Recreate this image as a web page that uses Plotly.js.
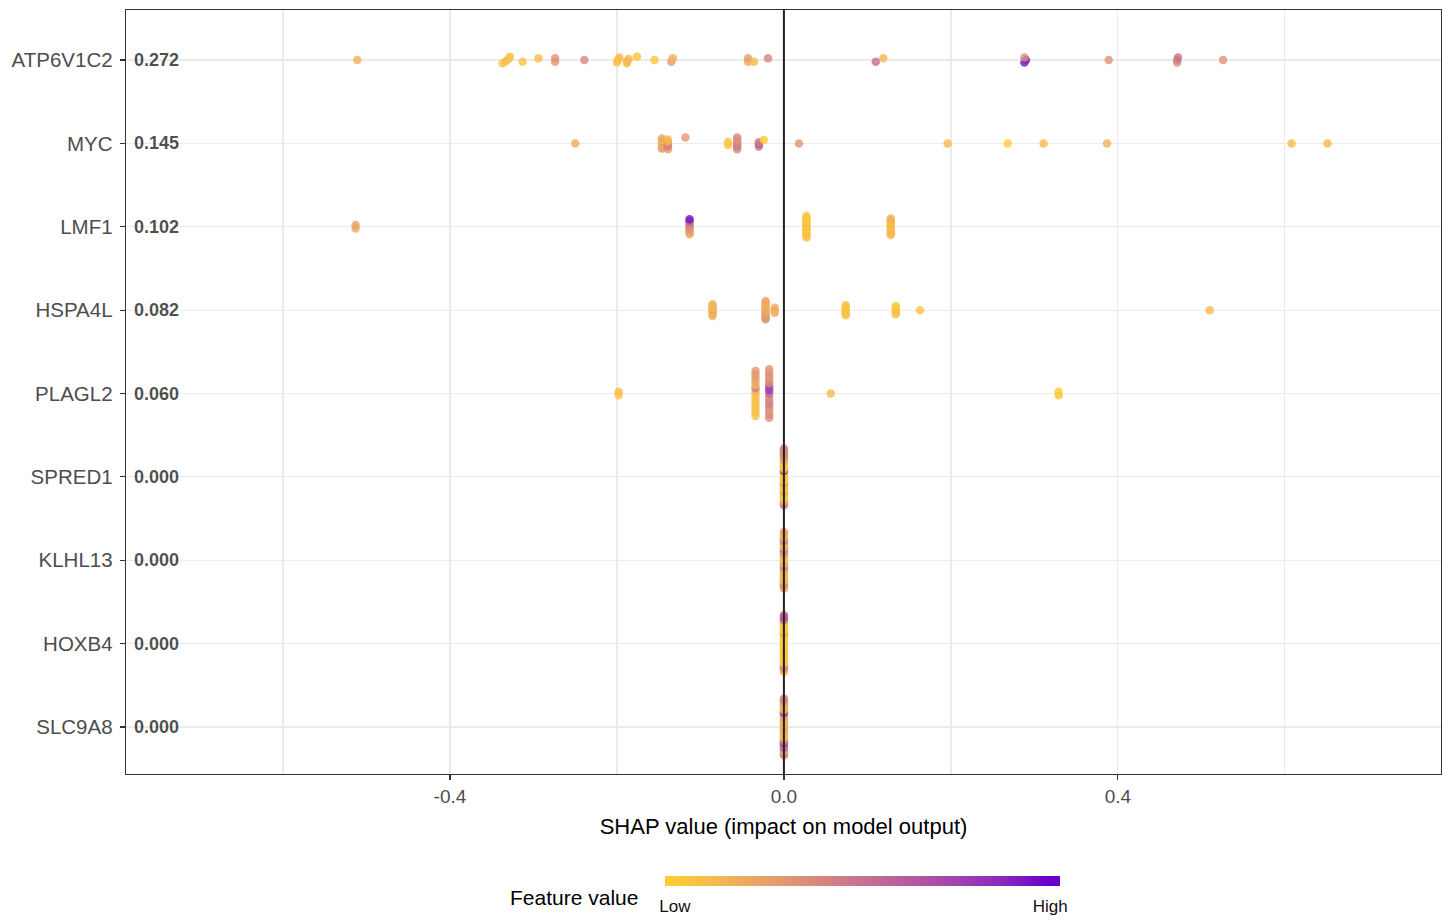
<!DOCTYPE html>
<html>
<head>
<meta charset="utf-8">
<script src="https://cdn.plot.ly/plotly-3.0.1.min.js"></script>
<style>html,body{margin:0;padding:0;background:#fff;}#chart{width:1452px;height:922px;}</style>
</head>
<body>
<div id="chart"></div>
<script>
// ---------------- data ----------------
const features = ["ATP6V1C2","MYC","LMF1","HSPA4L","PLAGL2","SPRED1","KLHL13","HOXB4","SLC9A8"];
const meanAbsLabels = ["0.272","0.145","0.102","0.082","0.060","0.000","0.000","0.000","0.000"];

const shap_ATP6V1C2 = [-0.511,-0.337,-0.333,-0.330,-0.328,-0.313,-0.294,-0.274,-0.274,-0.239,-0.200,-0.199,-0.197,-0.188,-0.188,-0.186,-0.176,-0.155,-0.135,-0.133,-0.043,-0.043,-0.036,-0.019,0.110,0.119,0.288,0.290,0.288,0.389,0.471,0.471,0.472,0.526];
const fv_ATP6V1C2   = [0.15,0.05,0.08,0.10,0.06,0.05,0.08,0.28,0.32,0.38,0.05,0.08,0.10,0.05,0.12,0.10,0.05,0.02,0.28,0.15,0.20,0.25,0.10,0.38,0.52,0.12,0.95,0.90,0.35,0.30,0.35,0.40,0.50,0.30];

const shap_MYC = [-0.250,-0.146,-0.146,-0.146,-0.146,-0.146,-0.146,-0.139,-0.139,-0.139,-0.139,-0.139,-0.139,-0.118,-0.067,-0.067,-0.056,-0.056,-0.056,-0.056,-0.056,-0.056,-0.056,-0.030,-0.030,-0.030,-0.024,0.018,0.196,0.268,0.311,0.387,0.608,0.651];
const fv_MYC   = [0.18,0.30,0.20,0.15,0.25,0.10,0.20,0.25,0.30,0.45,0.40,0.15,0.10,0.28,0.02,0.05,0.35,0.40,0.45,0.38,0.42,0.30,0.35,0.40,0.65,0.45,0.00,0.30,0.10,0.00,0.08,0.12,0.08,0.10];

const shap_LMF1 = [-0.513,-0.513,-0.113,-0.113,-0.113,-0.113,-0.113,-0.113,-0.113,-0.113,-0.113,0.027,0.027,0.027,0.027,0.027,0.027,0.027,0.027,0.027,0.027,0.027,0.027,0.027,0.128,0.128,0.128,0.128,0.128,0.128,0.128,0.128,0.128,0.128];
const fv_LMF1   = [0.20,0.22,0.20,0.22,0.25,0.30,0.35,0.40,0.45,0.60,0.95,0.05,0.08,0.02,0.10,0.05,0.00,0.08,0.05,0.10,0.03,0.06,0.00,0.05,0.10,0.12,0.08,0.15,0.10,0.05,0.12,0.08,0.10,0.15];

const shap_HSPA4L = [-0.0855,-0.0855,-0.0855,-0.0855,-0.0855,-0.0855,-0.0855,-0.022,-0.022,-0.022,-0.022,-0.022,-0.022,-0.022,-0.022,-0.022,-0.022,-0.022,-0.011,-0.011,-0.011,0.074,0.074,0.074,0.074,0.074,0.074,0.134,0.134,0.134,0.134,0.134,0.163,0.510];
const fv_HSPA4L   = [0.15,0.18,0.12,0.20,0.15,0.10,0.15,0.35,0.30,0.28,0.25,0.22,0.20,0.18,0.20,0.15,0.18,0.20,0.20,0.15,0.18,0.05,0.08,0.02,0.06,0.04,0.05,0.06,0.04,0.08,0.05,0.03,0.05,0.10];

const shap_PLAGL2 = [-0.198,-0.198,-0.0176,-0.034,-0.0176,-0.034,-0.0176,-0.034,-0.0176,-0.034,-0.0176,-0.034,-0.0176,-0.034,-0.0176,-0.034,-0.0176,-0.034,-0.0176,-0.034,-0.0176,-0.034,-0.0176,-0.034,-0.0176,-0.034,-0.0176,-0.034,-0.0176,-0.034,-0.0176,0.056,0.329,0.329];
const fv_PLAGL2   = [0.05,0.08,0.35,0.05,0.40,0.08,0.30,0.05,0.35,0.10,0.45,0.05,0.40,0.10,0.35,0.08,0.55,0.12,0.80,0.45,0.75,0.15,0.40,0.20,0.35,0.25,0.30,0.28,0.35,0.30,0.30,0.10,0.05,0.00];

const shap_SPRED1 = [0,0,0,0,0,0,0,0,0,0,0,0,0,0,0,0,0,0,0,0,0,0,0,0,0,0,0,0,0,0,0,0,0,0];
const fv_SPRED1   = [0.45,0.40,0.30,0.10,0.05,0.00,0.10,0.05,0.30,0.00,0.05,0.10,0.00,0.35,0.05,0.00,0.10,0.05,0.00,0.10,0.95,0.05,0.00,0.10,0.05,0.00,0.30,0.10,0.35,0.40,0.30,0.45,0.35,0.40];

const shap_KLHL13 = [0,0,0,0,0,0,0,0,0,0,0,0,0,0,0,0,0,0,0,0,0,0,0,0,0,0,0,0,0,0,0,0,0,0];
const fv_KLHL13   = [0.20,0.15,0.30,0.45,0.10,0.15,0.20,0.10,0.05,0.15,0.20,0.10,0.30,0.45,0.15,0.10,0.20,0.05,0.15,0.10,0.20,0.30,0.40,0.50,0.15,0.10,0.20,0.15,0.50,0.30,0.10,0.20,0.15,0.25];

const shap_HOXB4 = [0,0,0,0,0,0,0,0,0,0,0,0,0,0,0,0,0,0,0,0,0,0,0,0,0,0,0,0,0,0,0,0,0,0];
const fv_HOXB4   = [0.10,0.05,0.30,0.45,0.35,0.05,0.00,0.02,0.05,0.00,0.03,0.00,0.05,0.02,0.00,0.05,0.00,0.03,0.00,0.05,0.02,0.00,0.05,0.30,0.00,0.02,0.05,0.00,0.03,0.05,0.40,0.55,0.70,0.60];

const shap_SLC9A8 = [0,0,0,0,0,0,0,0,0,0,0,0,0,0,0,0,0,0,0,0,0,0,0,0,0,0,0,0,0,0,0,0,0,0];
const fv_SLC9A8   = [0.40,0.45,0.30,0.20,0.50,0.55,0.45,0.80,0.50,0.40,0.20,0.10,0.15,0.20,0.10,0.15,0.30,0.20,0.10,0.15,0.20,0.10,0.25,0.20,0.30,0.95,0.20,0.15,0.10,0.20,0.15,0.30,0.35,0.40];

const xTickVals = [-0.4, 0, 0.4];
const xTickText = ["-0.4", "0.0", "0.4"];
const colorTickText = ["Low", "High"];

// ---------------- assemble ----------------
const shapByFeature = [shap_ATP6V1C2, shap_MYC, shap_LMF1, shap_HSPA4L, shap_PLAGL2, shap_SPRED1, shap_KLHL13, shap_HOXB4, shap_SLC9A8];
const fvByFeature   = [fv_ATP6V1C2, fv_MYC, fv_LMF1, fv_HSPA4L, fv_PLAGL2, fv_SPRED1, fv_KLHL13, fv_HOXB4, fv_SLC9A8];
const nF = features.length;
const rowPos = features.map((f, i) => nF - i); // top feature highest

// sina-like spreading by counts per bin (deterministic, even spacing)
const X0 = -0.015, BW = 0.025, MAXHALF = 0.34;
const binOf = x => Math.floor((x - X0) / BW + 1e-9);
let maxCount = 1;
const binsByFeature = shapByFeature.map(arr => {
  const m = new Map();
  arr.forEach((x, i) => { const b = binOf(x); if (!m.has(b)) m.set(b, []); m.get(b).push(i); });
  m.forEach(v => { if (v.length > maxCount) maxCount = v.length; });
  return m;
});

const traces = shapByFeature.map((arr, fi) => {
  const ys = new Array(arr.length);
  binsByFeature[fi].forEach(idx => {
    const k = idx.length;
    const w = MAXHALF * k / maxCount;
    idx.forEach((pi, j) => {
      const off = k === 1 ? 0 : w * (-1 + 2 * j / (k - 1));
      ys[pi] = rowPos[fi] + off;
    });
  });
  return {
    type: 'scatter', mode: 'markers',
    x: arr, y: ys,
    marker: { color: fvByFeature[fi], coloraxis: 'coloraxis', size: 8.5, opacity: 0.8, line: { width: 0 } },
    hoverinfo: 'x', showlegend: false
  };
});

// colour scale approximating a Lab gradient #FFCC33 -> #6600CC, bar padded half a bin
const CPAD = 0.0263;
const cpos = v => (v + CPAD) / (1 + 2 * CPAD);
const colorscale = [
  [0, '#FFCC33'], [cpos(0), '#FFCC33'],
  [cpos(0.125), 'rgb(243,181,84)'], [cpos(0.25), 'rgb(230,159,107)'],
  [cpos(0.375), 'rgb(216,136,126)'], [cpos(0.5), 'rgb(200,114,143)'],
  [cpos(0.625), 'rgb(182,91,159)'], [cpos(0.75), 'rgb(161,67,174)'],
  [cpos(0.875), 'rgb(136,41,189)'], [cpos(1), '#6600CC'], [1, '#6600CC']
];

const FONT = 'Liberation Sans, Arial, Helvetica, sans-serif';
const annotations = meanAbsLabels.map((t, i) => ({
  x: 0, xref: 'paper', xanchor: 'left', xshift: 6,
  y: rowPos[i], yref: 'y', yanchor: 'middle',
  text: '<b>' + t + '</b>', showarrow: false,
  font: { family: FONT, size: 18, color: 'rgba(0,0,0,0.7)' }
}));
annotations.push({
  x: 0.3407, xref: 'paper', xanchor: 'center',
  y: -0.1623, yref: 'paper', yanchor: 'middle',
  text: 'Feature value', showarrow: false,
  font: { family: FONT, size: 21, color: '#000' }
});

const layout = {
  width: 1452, height: 922,
  margin: { l: 126, r: 11, t: 10, b: 148, autoexpand: false },
  paper_bgcolor: '#fff', plot_bgcolor: '#fff',
  font: { family: FONT, color: '#000' },
  showlegend: false,
  xaxis: {
    range: [-0.788, 0.787], tickvals: xTickVals, ticktext: xTickText,
    ticks: 'outside', ticklen: 5, tickwidth: 1.2, tickcolor: '#333',
    tickfont: { family: FONT, size: 19, color: '#4D4D4D' },
    showgrid: true, gridcolor: '#EBEBEB', gridwidth: 1.2,
    minor: { tickvals: [-0.6, -0.2, 0.2, 0.6], showgrid: true, gridcolor: '#EBEBEB', gridwidth: 1.2, ticks: '' },
    zeroline: false, showline: true, mirror: true, linecolor: '#333', linewidth: 1.3,
    automargin: false,
    title: { text: 'SHAP value (impact on model output)', font: { family: FONT, size: 22, color: '#000' }, standoff: 12 }
  },
  yaxis: {
    range: [0.436, 9.6], tickvals: rowPos, ticktext: features,
    ticks: 'outside', ticklen: 5, tickwidth: 1.2, tickcolor: '#333',
    ticklabelstandoff: 3, automargin: false,
    tickfont: { family: FONT, size: 20.5, color: '#4D4D4D' },
    showgrid: true, gridcolor: '#EBEBEB', gridwidth: 1.2,
    zeroline: false, showline: true, mirror: true, linecolor: '#333', linewidth: 1.3
  },
  coloraxis: {
    colorscale: colorscale, cmin: -CPAD, cmax: 1 + CPAD,
    colorbar: {
      orientation: 'h', x: 0.5601, xanchor: 'center', y: -0.1335, yanchor: 'top',
      thickness: 10, len: 395, lenmode: 'pixels', outlinewidth: 0,
      xpad: 0, ypad: 0,
      tickvals: [0, 1], ticktext: colorTickText,
      ticks: 'outside', ticklen: 6, tickcolor: 'rgba(0,0,0,0)',
      tickfont: { family: FONT, size: 17, color: '#111' },
      title: { text: '' }
    }
  },
  shapes: [{
    type: 'line', xref: 'x', yref: 'paper', x0: 0, x1: 0, y0: 0, y1: 1,
    line: { color: '#222', width: 2 }, layer: 'above'
  }],
  annotations: annotations
};

Plotly.newPlot('chart', traces, layout, { displayModeBar: false, staticPlot: true });
</script>
</body>
</html>
